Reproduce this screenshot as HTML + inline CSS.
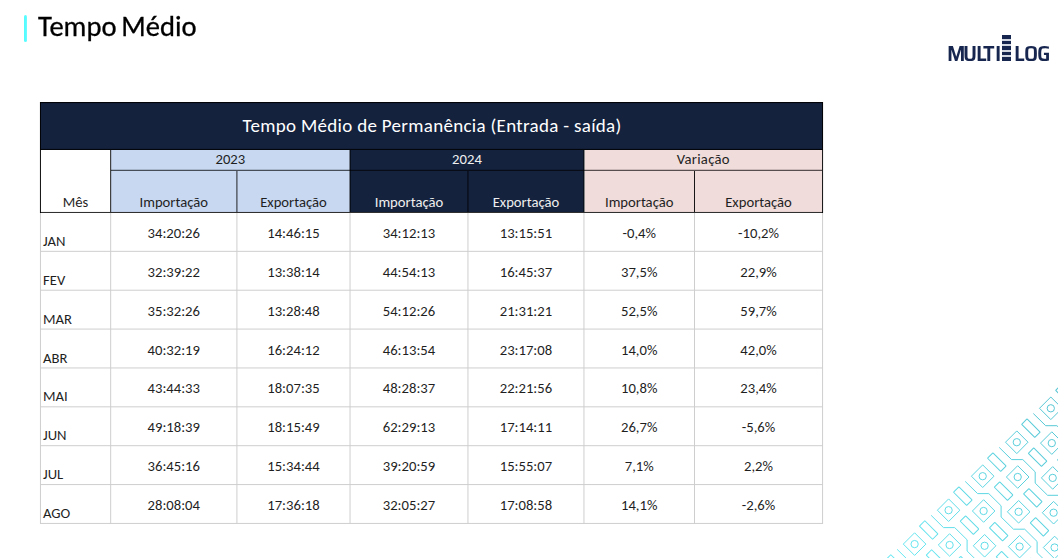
<!DOCTYPE html>
<html lang="pt-BR">
<head>
<meta charset="utf-8">
<title>Tempo Médio</title>
<style>
html,body{margin:0;padding:0;background:#fff;}
body{width:1058px;height:558px;overflow:hidden;position:relative;font-family:"Carlito","Liberation Sans",sans-serif;color:#000;}
.abs{position:absolute;}
.r{position:absolute;}
.t{position:absolute;text-align:center;white-space:nowrap;}
.deco{position:absolute;left:0;top:0;}
.bar{left:24px;top:15px;width:3.3px;height:27px;background:linear-gradient(90deg,#50fdff,#5cfdff 60%,#7af9ff);border-radius:1.5px;}
.ptitle{left:37.6px;top:10.12px;font-size:28.6px;word-spacing:-1.8px;will-change:transform;-webkit-text-stroke:0.3px #000;line-height:34px;white-space:nowrap;color:#000;}
.lgw{position:absolute;left:0;top:43px;width:1058px;height:24px;will-change:transform;}
.lg{position:absolute;top:0;display:inline-block;font-family:"Saira SemiCondensed","Liberation Sans Narrow","Liberation Sans",sans-serif;font-weight:600;font-size:21.4px;line-height:22px;color:#17264f;white-space:nowrap;transform:scaleX(1.08);transform-origin:0 0;}
.lb{position:absolute;left:1002px;width:9.4px;height:3.6px;background:#17264f;}
.lbg{position:absolute;left:1002px;top:36px;width:9.4px;height:24px;background:#d3d7e0;}
</style>
</head>
<body>
<svg class="deco" width="1058" height="558" viewBox="0 0 1058 558"><defs><linearGradient id="g" gradientUnits="userSpaceOnUse" x1="900" y1="558" x2="1058" y2="400"><stop offset="0" stop-color="#66e8f2"/><stop offset="1" stop-color="#55c4d2"/></linearGradient></defs><g fill="none" stroke="url(#g)" stroke-width="1" stroke-linejoin="miter"><path d="M880.6 566.8L891.9 578.0L880.6 589.3L869.3 578.0Z"/><circle cx="880.6" cy="578.0" r="3.65"/><path d="M914.6 532.8L925.9 544.1L914.6 555.4L903.3 544.1Z"/><circle cx="914.6" cy="544.1" r="3.65"/><path d="M915.6 567.6L926.9 578.9L915.6 590.2L904.3 578.9Z"/><circle cx="915.6" cy="578.9" r="3.65"/><path d="M948.6 498.9L959.9 510.2L948.6 521.5L937.4 510.2Z"/><circle cx="948.6" cy="510.2" r="3.65"/><path d="M949.6 533.7L960.9 545.0L949.6 556.2L938.3 545.0Z"/><circle cx="949.6" cy="545.0" r="3.65"/><path d="M950.6 568.5L961.9 579.8L950.6 591.0L939.3 579.8Z"/><circle cx="950.6" cy="579.8" r="3.65"/><path d="M982.7 464.9L994.0 476.2L982.7 487.5L971.4 476.2Z"/><circle cx="982.7" cy="476.2" r="3.65"/><path d="M983.6 499.7L994.9 511.0L983.6 522.3L972.4 511.0Z"/><circle cx="983.6" cy="511.0" r="3.65"/><path d="M984.6 534.5L995.9 545.8L984.6 557.1L973.3 545.8Z"/><circle cx="984.6" cy="545.8" r="3.65"/><path d="M985.6 569.3L996.9 580.6L985.6 591.9L974.3 580.6Z"/><circle cx="985.6" cy="580.6" r="3.65"/><path d="M1016.8 430.9L1028.0 442.2L1016.8 453.6L1005.5 442.2Z"/><circle cx="1016.8" cy="442.2" r="3.65"/><path d="M1017.7 465.7L1029.0 477.0L1017.7 488.3L1006.4 477.0Z"/><circle cx="1017.7" cy="477.0" r="3.65"/><path d="M1018.6 500.5L1030.0 511.8L1018.6 523.1L1007.4 511.8Z"/><circle cx="1018.6" cy="511.8" r="3.65"/><path d="M1019.6 535.4L1030.9 546.6L1019.6 557.9L1008.3 546.6Z"/><circle cx="1019.6" cy="546.6" r="3.65"/><path d="M1020.6 570.1L1031.9 581.4L1020.6 592.7L1009.3 581.4Z"/><circle cx="1020.6" cy="581.4" r="3.65"/><path d="M1050.8 397.0L1062.1 408.3L1050.8 419.6L1039.5 408.3Z"/><circle cx="1050.8" cy="408.3" r="3.65"/><path d="M1051.8 431.8L1063.0 443.1L1051.8 454.4L1040.5 443.1Z"/><circle cx="1051.8" cy="443.1" r="3.65"/><path d="M1052.7 466.6L1064.0 477.9L1052.7 489.2L1041.4 477.9Z"/><circle cx="1052.7" cy="477.9" r="3.65"/><path d="M1053.6 501.4L1064.9 512.7L1053.6 524.0L1042.3 512.7Z"/><circle cx="1053.6" cy="512.7" r="3.65"/><path d="M1054.6 536.2L1065.9 547.5L1054.6 558.8L1043.3 547.5Z"/><circle cx="1054.6" cy="547.5" r="3.65"/><path d="M1055.5 571.0L1066.8 582.3L1055.5 593.6L1044.2 582.3Z"/><circle cx="1055.5" cy="582.3" r="3.65"/><path d="M1084.8 363.1L1096.1 374.4L1084.8 385.7L1073.5 374.4Z"/><circle cx="1084.8" cy="374.4" r="3.65"/><path d="M1085.8 397.9L1097.1 409.2L1085.8 420.5L1074.5 409.2Z"/><circle cx="1085.8" cy="409.2" r="3.65"/><path d="M1086.8 432.7L1098.0 444.0L1086.8 455.3L1075.5 444.0Z"/><circle cx="1086.8" cy="444.0" r="3.65"/><path d="M1087.7 467.4L1099.0 478.8L1087.7 490.1L1076.4 478.8Z"/><circle cx="1087.7" cy="478.8" r="3.65"/><rect x="885.4" y="560.2" width="18.6" height="7.6" rx="0.4" transform="rotate(45 894.7 564.0)"/><rect x="919.4" y="526.2" width="18.6" height="7.6" rx="0.4" transform="rotate(45 928.7 530.0)"/><rect x="926.2" y="555.2" width="18.6" height="7.6" rx="0.4" transform="rotate(45 935.5 559.0)"/><rect x="953.5" y="492.3" width="18.6" height="7.6" rx="0.4" transform="rotate(45 962.8 496.1)"/><rect x="960.2" y="521.3" width="18.6" height="7.6" rx="0.4" transform="rotate(45 969.5 525.1)"/><rect x="955.4" y="561.9" width="18.6" height="7.6" rx="0.4" transform="rotate(45 964.7 565.7)"/><rect x="987.5" y="458.3" width="18.6" height="7.6" rx="0.4" transform="rotate(45 996.8 462.1)"/><rect x="994.3" y="487.3" width="18.6" height="7.6" rx="0.4" transform="rotate(45 1003.6 491.1)"/><rect x="989.4" y="527.9" width="18.6" height="7.6" rx="0.4" transform="rotate(45 998.7 531.7)"/><rect x="996.2" y="556.9" width="18.6" height="7.6" rx="0.4" transform="rotate(45 1005.5 560.7)"/><rect x="1021.6" y="424.4" width="18.6" height="7.6" rx="0.4" transform="rotate(45 1030.9 428.2)"/><rect x="1028.3" y="453.4" width="18.6" height="7.6" rx="0.4" transform="rotate(45 1037.6 457.2)"/><rect x="1023.5" y="494.0" width="18.6" height="7.6" rx="0.4" transform="rotate(45 1032.8 497.8)"/><rect x="1030.2" y="523.0" width="18.6" height="7.6" rx="0.4" transform="rotate(45 1039.5 526.8)"/><rect x="1025.4" y="563.6" width="18.6" height="7.6" rx="0.4" transform="rotate(45 1034.7 567.4)"/><rect x="1055.6" y="390.4" width="18.6" height="7.6" rx="0.4" transform="rotate(45 1064.9 394.2)"/><rect x="1062.4" y="419.4" width="18.6" height="7.6" rx="0.4" transform="rotate(45 1071.7 423.2)"/><rect x="1057.5" y="460.0" width="18.6" height="7.6" rx="0.4" transform="rotate(45 1066.8 463.8)"/><rect x="1064.3" y="489.0" width="18.6" height="7.6" rx="0.4" transform="rotate(45 1073.6 492.8)"/><rect x="1059.4" y="529.6" width="18.6" height="7.6" rx="0.4" transform="rotate(45 1068.7 533.4)"/><rect x="1066.2" y="558.6" width="18.6" height="7.6" rx="0.4" transform="rotate(45 1075.5 562.4)"/><path d="M829.0 617.2L841.4 629.4L852.6 629.4L865.0 641.6L865.0 652.8L877.3 665.0L888.5 665.0L900.9 677.3L900.9 688.5L913.3 700.7L924.5 700.7L936.9 712.9L936.9 724.1L949.2 736.4L960.4 736.4L972.8 748.6L972.8 759.8L985.2 772.0L996.4 772.0L1008.8 784.2L1008.8 795.4L1021.1 807.6L1032.3 807.6L1044.7 819.9L1044.7 831.1"/><path d="M863.1 583.2L875.4 595.5L886.6 595.5L899.0 607.7L899.0 618.9L911.4 631.1L922.6 631.1L935.0 643.3L935.0 654.5L947.3 666.8L958.5 666.8L970.9 679.0L970.9 690.2L983.3 702.4L994.5 702.4L1006.8 714.6L1006.8 725.8L1019.2 738.0L1030.4 738.0L1042.8 750.3L1042.8 761.5L1055.2 773.7L1066.4 773.7L1078.8 785.9L1078.8 797.1"/><path d="M897.1 549.3L909.5 561.5L920.7 561.5L933.1 573.7L933.1 584.9L945.4 597.2L956.6 597.2L969.0 609.4L969.0 620.6L981.4 632.8L992.6 632.8L1005.0 645.0L1005.0 656.2L1017.3 668.4L1028.5 668.4L1040.9 680.7L1040.9 691.9L1053.3 704.1L1064.5 704.1L1076.8 716.3L1076.8 727.5L1089.2 739.8L1100.4 739.8L1112.8 752.0L1112.8 763.2"/><path d="M931.1 515.3L943.5 527.6L954.7 527.6L967.1 539.8L967.1 551.0L979.5 563.2L990.7 563.2L1003.1 575.4L1003.1 586.6L1015.4 598.8L1026.6 598.8L1039.0 611.1L1039.0 622.3L1051.4 634.5L1062.6 634.5L1074.9 646.7L1074.9 657.9L1087.3 670.1L1098.5 670.1L1110.9 682.4L1110.9 693.6L1123.3 705.8L1134.5 705.8L1146.8 718.0L1146.8 729.2"/><path d="M965.2 481.4L977.6 493.6L988.8 493.6L1001.1 505.8L1001.1 517.0L1013.5 529.2L1024.7 529.2L1037.1 541.5L1037.1 552.7L1049.5 564.9L1060.7 564.9L1073.0 577.1L1073.0 588.3L1085.4 600.5L1096.6 600.5L1109.0 612.8L1109.0 624.0L1121.4 636.2L1132.6 636.2L1144.9 648.4L1144.9 659.6L1157.3 671.9L1168.5 671.9L1180.9 684.1L1180.9 695.3"/><path d="M999.2 447.4L1011.6 459.6L1022.8 459.6L1035.2 471.9L1035.2 483.1L1047.6 495.3L1058.8 495.3L1071.1 507.5L1071.1 518.7L1083.5 531.0L1094.7 531.0L1107.1 543.2L1107.1 554.4L1119.5 566.6L1130.7 566.6L1143.0 578.8L1143.0 590.0L1155.4 602.2L1166.6 602.2L1179.0 614.5L1179.0 625.7L1191.4 637.9L1202.6 637.9L1214.9 650.1L1214.9 661.3"/><path d="M1033.3 413.5L1045.7 425.7L1056.9 425.7L1069.2 437.9L1069.2 449.1L1081.6 461.4L1092.8 461.4L1105.2 473.6L1105.2 484.8L1117.6 497.0L1128.8 497.0L1141.1 509.2L1141.1 520.4L1153.5 532.7L1164.7 532.7L1177.1 544.9L1177.1 556.1L1189.5 568.3L1200.7 568.3L1213.0 580.5L1213.0 591.7L1225.4 604.0L1236.6 604.0L1249.0 616.2L1249.0 627.4"/><path d="M1067.3 379.5L1079.7 391.8L1090.9 391.8L1103.3 404.0L1103.3 415.2L1115.7 427.4L1126.9 427.4L1139.2 439.6L1139.2 450.8L1151.6 463.1L1162.8 463.1L1175.2 475.3L1175.2 486.5L1187.6 498.7L1198.8 498.7L1211.1 510.9L1211.1 522.1L1223.5 534.4L1234.7 534.4L1247.1 546.6L1247.1 557.8L1259.5 570.0L1270.7 570.0L1283.0 582.2L1283.0 593.4"/><path d="M1101.4 345.6L1113.8 357.8L1125.0 357.8L1137.3 370.0L1137.3 381.2L1149.7 393.5L1160.9 393.5L1173.3 405.7L1173.3 416.9L1185.7 429.1L1196.9 429.1L1209.2 441.3L1209.2 452.5L1221.6 464.8L1232.8 464.8L1245.2 477.0L1245.2 488.2L1257.6 500.4L1268.8 500.4L1281.1 512.6L1281.1 523.8L1293.5 536.1L1304.7 536.1L1317.1 548.3L1317.1 559.5"/></g></svg>
<div class="abs bar"></div>
<div class="abs ptitle">Tempo Médio</div>
<div class="lgw"><span class="lg" style="left:946.5px">M</span><span class="lg" style="left:963.4px">U</span><span class="lg" style="left:976.4px">L</span><span class="lg" style="left:983.0px">T</span><span class="lg" style="left:995.4px">I</span></div>
<div class="lbg"></div><div class="lb" style="top:35.1px"></div><div class="lb" style="top:40.9px"></div><div class="lb" style="top:46.2px"></div><div class="lb" style="top:51.5px"></div><div class="lb" style="top:57px"></div>
<div class="lgw"><span class="lg" style="left:1013.5px">L</span><span class="lg" style="left:1024.0px">O</span><span class="lg" style="left:1037.1px">G</span></div>
<div class="r" style="left:40px;top:102px;width:783px;height:48px;background:#14223e"></div>
<div class="r" style="left:111px;top:150px;width:239px;height:62px;background:#c8d8f1"></div>
<div class="r" style="left:350px;top:150px;width:234px;height:62px;background:#14223e"></div>
<div class="r" style="left:585px;top:150px;width:237px;height:62px;background:#f0dcdb"></div>
<div class="r" style="left:40px;top:250px;width:783px;height:1px;background:rgba(206,206,206,0.16)"></div>
<div class="r" style="left:40px;top:251px;width:783px;height:1px;background:rgba(206,206,206,0.84)"></div>
<div class="r" style="left:40px;top:289px;width:783px;height:1px;background:rgba(206,206,206,0.29)"></div>
<div class="r" style="left:40px;top:290px;width:783px;height:1px;background:rgba(206,206,206,0.71)"></div>
<div class="r" style="left:40px;top:328px;width:783px;height:1px;background:rgba(206,206,206,0.42)"></div>
<div class="r" style="left:40px;top:329px;width:783px;height:1px;background:rgba(206,206,206,0.58)"></div>
<div class="r" style="left:40px;top:367px;width:783px;height:1px;background:rgba(206,206,206,0.55)"></div>
<div class="r" style="left:40px;top:368px;width:783px;height:1px;background:rgba(206,206,206,0.45)"></div>
<div class="r" style="left:40px;top:406px;width:783px;height:1px;background:rgba(206,206,206,0.68)"></div>
<div class="r" style="left:40px;top:407px;width:783px;height:1px;background:rgba(206,206,206,0.32)"></div>
<div class="r" style="left:40px;top:445px;width:783px;height:1px;background:rgba(206,206,206,0.81)"></div>
<div class="r" style="left:40px;top:446px;width:783px;height:1px;background:rgba(206,206,206,0.19)"></div>
<div class="r" style="left:40px;top:484px;width:783px;height:1px;background:rgba(206,206,206,0.94)"></div>
<div class="r" style="left:40px;top:485px;width:783px;height:1px;background:rgba(206,206,206,0.06)"></div>
<div class="r" style="left:40px;top:522px;width:783px;height:1px;background:rgba(206,206,206,0.07)"></div>
<div class="r" style="left:40px;top:523px;width:783px;height:1px;background:rgba(206,206,206,0.93)"></div>
<div class="r" style="left:39px;top:213px;width:1px;height:311px;background:rgba(206,206,206,0.05)"></div>
<div class="r" style="left:40px;top:213px;width:1px;height:311px;background:rgba(206,206,206,0.95)"></div>
<div class="r" style="left:110px;top:213px;width:1px;height:311px;background:rgba(206,206,206,0.83)"></div>
<div class="r" style="left:111px;top:213px;width:1px;height:311px;background:rgba(206,206,206,0.17)"></div>
<div class="r" style="left:236px;top:213px;width:1px;height:311px;background:rgba(206,206,206,0.59)"></div>
<div class="r" style="left:237px;top:213px;width:1px;height:311px;background:rgba(206,206,206,0.41)"></div>
<div class="r" style="left:349px;top:213px;width:1px;height:311px;background:rgba(206,206,206,0.47)"></div>
<div class="r" style="left:350px;top:213px;width:1px;height:311px;background:rgba(206,206,206,0.53)"></div>
<div class="r" style="left:467px;top:213px;width:1px;height:311px;background:rgba(206,206,206,0.54)"></div>
<div class="r" style="left:468px;top:213px;width:1px;height:311px;background:rgba(206,206,206,0.46)"></div>
<div class="r" style="left:583px;top:213px;width:1px;height:311px;background:rgba(206,206,206,0.54)"></div>
<div class="r" style="left:584px;top:213px;width:1px;height:311px;background:rgba(206,206,206,0.46)"></div>
<div class="r" style="left:694px;top:213px;width:1px;height:311px;background:rgba(206,206,206,1.00)"></div>
<div class="r" style="left:822px;top:213px;width:1px;height:311px;background:rgba(206,206,206,0.94)"></div>
<div class="r" style="left:823px;top:213px;width:1px;height:311px;background:rgba(206,206,206,0.06)"></div>
<div class="r" style="left:40px;top:102px;width:783px;height:1px;background:rgba(0,0,0,0.86)"></div>
<div class="r" style="left:40px;top:103px;width:783px;height:1px;background:rgba(0,0,0,0.09)"></div>
<div class="r" style="left:40px;top:148px;width:783px;height:1px;background:rgba(0,0,0,0.09)"></div>
<div class="r" style="left:40px;top:149px;width:783px;height:1px;background:rgba(0,0,0,0.81)"></div>
<div class="r" style="left:111px;top:169px;width:711px;height:1px;background:rgba(0,0,0,0.16)"></div>
<div class="r" style="left:111px;top:170px;width:711px;height:1px;background:rgba(0,0,0,0.64)"></div>
<div class="r" style="left:40px;top:211px;width:783px;height:1px;background:rgba(0,0,0,0.04)"></div>
<div class="r" style="left:40px;top:212px;width:783px;height:1px;background:rgba(0,0,0,0.81)"></div>
<div class="r" style="left:39px;top:102px;width:1px;height:111px;background:rgba(0,0,0,0.05)"></div>
<div class="r" style="left:40px;top:102px;width:1px;height:111px;background:rgba(0,0,0,0.90)"></div>
<div class="r" style="left:822px;top:102px;width:1px;height:111px;background:rgba(0,0,0,0.89)"></div>
<div class="r" style="left:823px;top:102px;width:1px;height:111px;background:rgba(0,0,0,0.06)"></div>
<div class="r" style="left:110px;top:150px;width:1px;height:62px;background:rgba(0,0,0,0.75)"></div>
<div class="r" style="left:111px;top:150px;width:1px;height:62px;background:rgba(0,0,0,0.15)"></div>
<div class="r" style="left:349px;top:150px;width:1px;height:62px;background:rgba(0,0,0,0.43)"></div>
<div class="r" style="left:350px;top:150px;width:1px;height:62px;background:rgba(0,0,0,0.52)"></div>
<div class="r" style="left:583px;top:150px;width:1px;height:62px;background:rgba(0,0,0,0.47)"></div>
<div class="r" style="left:584px;top:150px;width:1px;height:62px;background:rgba(0,0,0,0.47)"></div>
<div class="r" style="left:236px;top:171px;width:1px;height:41px;background:rgba(0,0,0,0.50)"></div>
<div class="r" style="left:237px;top:171px;width:1px;height:41px;background:rgba(0,0,0,0.35)"></div>
<div class="r" style="left:467px;top:171px;width:1px;height:41px;background:rgba(0,0,0,0.46)"></div>
<div class="r" style="left:468px;top:171px;width:1px;height:41px;background:rgba(0,0,0,0.39)"></div>
<div class="r" style="left:694px;top:171px;width:1px;height:41px;background:rgba(0,0,0,0.90)"></div>
<div class="t" style="left:40.60px;width:783.00px;top:113.83px;font-size:19px;line-height:23.75px;color:#fff;letter-spacing:0.31px">Tempo Médio de Permanência (Entrada - saída)</div>
<div class="t" style="left:110.67px;width:239.36px;top:150.22px;font-size:14.67px;line-height:18.34px;color:#1f1f1f;">2023</div>
<div class="t" style="left:350.03px;width:233.93px;top:150.22px;font-size:14.67px;line-height:18.34px;color:#efefef;">2024</div>
<div class="t" style="left:583.96px;width:238.60px;top:150.22px;font-size:14.67px;line-height:18.34px;color:#1f1f1f;letter-spacing:0.3px">Variação</div>
<div class="t" style="left:40.45px;width:70.22px;top:192.72px;font-size:14.67px;line-height:18.34px;color:#1f1f1f;">Mês</div>
<div class="t" style="left:110.67px;width:126.24px;top:192.72px;font-size:14.67px;line-height:18.34px;color:#1f1f1f;">Importação</div>
<div class="t" style="left:236.91px;width:113.12px;top:192.72px;font-size:14.67px;line-height:18.34px;color:#1f1f1f;">Exportação</div>
<div class="t" style="left:350.03px;width:117.93px;top:192.72px;font-size:14.67px;line-height:18.34px;color:#efefef;">Importação</div>
<div class="t" style="left:467.96px;width:116.00px;top:192.72px;font-size:14.67px;line-height:18.34px;color:#efefef;">Exportação</div>
<div class="t" style="left:583.96px;width:110.54px;top:192.72px;font-size:14.67px;line-height:18.34px;color:#1f1f1f;">Importação</div>
<div class="t" style="left:694.50px;width:128.06px;top:192.72px;font-size:14.67px;line-height:18.34px;color:#1f1f1f;">Exportação</div>
<div class="t" style="left:43.00px;top:231.99px;font-size:14.67px;line-height:18.34px;color:#1f1f1f;text-align:left;">JAN</div>
<div class="t" style="left:110.67px;width:126.24px;top:223.89px;font-size:14.67px;line-height:18.34px;color:#1f1f1f;">34:20:26</div>
<div class="t" style="left:236.91px;width:113.12px;top:223.89px;font-size:14.67px;line-height:18.34px;color:#1f1f1f;">14:46:15</div>
<div class="t" style="left:350.03px;width:117.93px;top:223.89px;font-size:14.67px;line-height:18.34px;color:#1f1f1f;">34:12:13</div>
<div class="t" style="left:467.96px;width:116.00px;top:223.89px;font-size:14.67px;line-height:18.34px;color:#1f1f1f;">13:15:51</div>
<div class="t" style="left:583.96px;width:110.54px;top:223.89px;font-size:14.67px;line-height:18.34px;color:#1f1f1f;">-0,4%</div>
<div class="t" style="left:694.50px;width:128.06px;top:223.89px;font-size:14.67px;line-height:18.34px;color:#1f1f1f;">-10,2%</div>
<div class="t" style="left:43.00px;top:270.86px;font-size:14.67px;line-height:18.34px;color:#1f1f1f;text-align:left;">FEV</div>
<div class="t" style="left:110.67px;width:126.24px;top:262.76px;font-size:14.67px;line-height:18.34px;color:#1f1f1f;">32:39:22</div>
<div class="t" style="left:236.91px;width:113.12px;top:262.76px;font-size:14.67px;line-height:18.34px;color:#1f1f1f;">13:38:14</div>
<div class="t" style="left:350.03px;width:117.93px;top:262.76px;font-size:14.67px;line-height:18.34px;color:#1f1f1f;">44:54:13</div>
<div class="t" style="left:467.96px;width:116.00px;top:262.76px;font-size:14.67px;line-height:18.34px;color:#1f1f1f;">16:45:37</div>
<div class="t" style="left:583.96px;width:110.54px;top:262.76px;font-size:14.67px;line-height:18.34px;color:#1f1f1f;">37,5%</div>
<div class="t" style="left:694.50px;width:128.06px;top:262.76px;font-size:14.67px;line-height:18.34px;color:#1f1f1f;">22,9%</div>
<div class="t" style="left:43.00px;top:309.73px;font-size:14.67px;line-height:18.34px;color:#1f1f1f;text-align:left;">MAR</div>
<div class="t" style="left:110.67px;width:126.24px;top:301.63px;font-size:14.67px;line-height:18.34px;color:#1f1f1f;">35:32:26</div>
<div class="t" style="left:236.91px;width:113.12px;top:301.63px;font-size:14.67px;line-height:18.34px;color:#1f1f1f;">13:28:48</div>
<div class="t" style="left:350.03px;width:117.93px;top:301.63px;font-size:14.67px;line-height:18.34px;color:#1f1f1f;">54:12:26</div>
<div class="t" style="left:467.96px;width:116.00px;top:301.63px;font-size:14.67px;line-height:18.34px;color:#1f1f1f;">21:31:21</div>
<div class="t" style="left:583.96px;width:110.54px;top:301.63px;font-size:14.67px;line-height:18.34px;color:#1f1f1f;">52,5%</div>
<div class="t" style="left:694.50px;width:128.06px;top:301.63px;font-size:14.67px;line-height:18.34px;color:#1f1f1f;">59,7%</div>
<div class="t" style="left:43.00px;top:348.60px;font-size:14.67px;line-height:18.34px;color:#1f1f1f;text-align:left;">ABR</div>
<div class="t" style="left:110.67px;width:126.24px;top:340.50px;font-size:14.67px;line-height:18.34px;color:#1f1f1f;">40:32:19</div>
<div class="t" style="left:236.91px;width:113.12px;top:340.50px;font-size:14.67px;line-height:18.34px;color:#1f1f1f;">16:24:12</div>
<div class="t" style="left:350.03px;width:117.93px;top:340.50px;font-size:14.67px;line-height:18.34px;color:#1f1f1f;">46:13:54</div>
<div class="t" style="left:467.96px;width:116.00px;top:340.50px;font-size:14.67px;line-height:18.34px;color:#1f1f1f;">23:17:08</div>
<div class="t" style="left:583.96px;width:110.54px;top:340.50px;font-size:14.67px;line-height:18.34px;color:#1f1f1f;">14,0%</div>
<div class="t" style="left:694.50px;width:128.06px;top:340.50px;font-size:14.67px;line-height:18.34px;color:#1f1f1f;">42,0%</div>
<div class="t" style="left:43.00px;top:387.47px;font-size:14.67px;line-height:18.34px;color:#1f1f1f;text-align:left;">MAI</div>
<div class="t" style="left:110.67px;width:126.24px;top:379.37px;font-size:14.67px;line-height:18.34px;color:#1f1f1f;">43:44:33</div>
<div class="t" style="left:236.91px;width:113.12px;top:379.37px;font-size:14.67px;line-height:18.34px;color:#1f1f1f;">18:07:35</div>
<div class="t" style="left:350.03px;width:117.93px;top:379.37px;font-size:14.67px;line-height:18.34px;color:#1f1f1f;">48:28:37</div>
<div class="t" style="left:467.96px;width:116.00px;top:379.37px;font-size:14.67px;line-height:18.34px;color:#1f1f1f;">22:21:56</div>
<div class="t" style="left:583.96px;width:110.54px;top:379.37px;font-size:14.67px;line-height:18.34px;color:#1f1f1f;">10,8%</div>
<div class="t" style="left:694.50px;width:128.06px;top:379.37px;font-size:14.67px;line-height:18.34px;color:#1f1f1f;">23,4%</div>
<div class="t" style="left:43.00px;top:426.34px;font-size:14.67px;line-height:18.34px;color:#1f1f1f;text-align:left;">JUN</div>
<div class="t" style="left:110.67px;width:126.24px;top:418.24px;font-size:14.67px;line-height:18.34px;color:#1f1f1f;">49:18:39</div>
<div class="t" style="left:236.91px;width:113.12px;top:418.24px;font-size:14.67px;line-height:18.34px;color:#1f1f1f;">18:15:49</div>
<div class="t" style="left:350.03px;width:117.93px;top:418.24px;font-size:14.67px;line-height:18.34px;color:#1f1f1f;">62:29:13</div>
<div class="t" style="left:467.96px;width:116.00px;top:418.24px;font-size:14.67px;line-height:18.34px;color:#1f1f1f;">17:14:11</div>
<div class="t" style="left:583.96px;width:110.54px;top:418.24px;font-size:14.67px;line-height:18.34px;color:#1f1f1f;">26,7%</div>
<div class="t" style="left:694.50px;width:128.06px;top:418.24px;font-size:14.67px;line-height:18.34px;color:#1f1f1f;">-5,6%</div>
<div class="t" style="left:43.00px;top:465.21px;font-size:14.67px;line-height:18.34px;color:#1f1f1f;text-align:left;">JUL</div>
<div class="t" style="left:110.67px;width:126.24px;top:457.11px;font-size:14.67px;line-height:18.34px;color:#1f1f1f;">36:45:16</div>
<div class="t" style="left:236.91px;width:113.12px;top:457.11px;font-size:14.67px;line-height:18.34px;color:#1f1f1f;">15:34:44</div>
<div class="t" style="left:350.03px;width:117.93px;top:457.11px;font-size:14.67px;line-height:18.34px;color:#1f1f1f;">39:20:59</div>
<div class="t" style="left:467.96px;width:116.00px;top:457.11px;font-size:14.67px;line-height:18.34px;color:#1f1f1f;">15:55:07</div>
<div class="t" style="left:583.96px;width:110.54px;top:457.11px;font-size:14.67px;line-height:18.34px;color:#1f1f1f;">7,1%</div>
<div class="t" style="left:694.50px;width:128.06px;top:457.11px;font-size:14.67px;line-height:18.34px;color:#1f1f1f;">2,2%</div>
<div class="t" style="left:43.00px;top:504.08px;font-size:14.67px;line-height:18.34px;color:#1f1f1f;text-align:left;">AGO</div>
<div class="t" style="left:110.67px;width:126.24px;top:495.98px;font-size:14.67px;line-height:18.34px;color:#1f1f1f;">28:08:04</div>
<div class="t" style="left:236.91px;width:113.12px;top:495.98px;font-size:14.67px;line-height:18.34px;color:#1f1f1f;">17:36:18</div>
<div class="t" style="left:350.03px;width:117.93px;top:495.98px;font-size:14.67px;line-height:18.34px;color:#1f1f1f;">32:05:27</div>
<div class="t" style="left:467.96px;width:116.00px;top:495.98px;font-size:14.67px;line-height:18.34px;color:#1f1f1f;">17:08:58</div>
<div class="t" style="left:583.96px;width:110.54px;top:495.98px;font-size:14.67px;line-height:18.34px;color:#1f1f1f;">14,1%</div>
<div class="t" style="left:694.50px;width:128.06px;top:495.98px;font-size:14.67px;line-height:18.34px;color:#1f1f1f;">-2,6%</div>
</body>
</html>
